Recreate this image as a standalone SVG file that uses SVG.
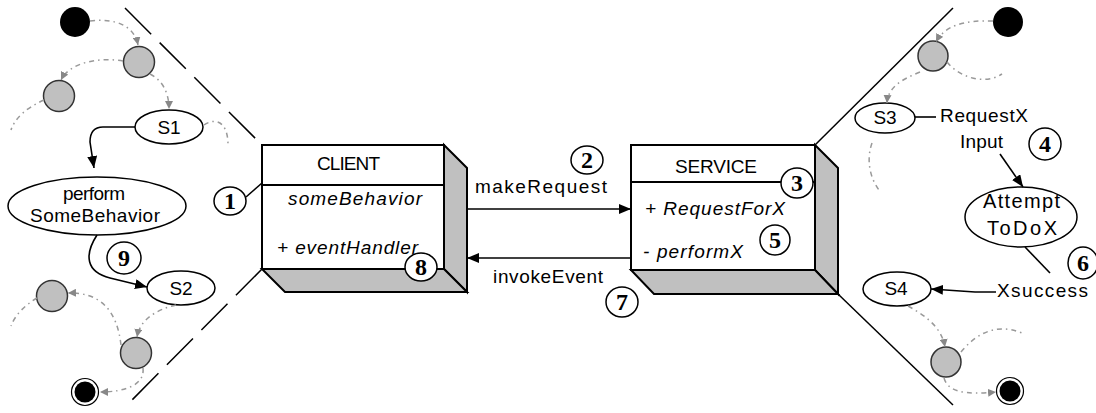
<svg xmlns="http://www.w3.org/2000/svg" width="1096" height="413" viewBox="0 0 1096 413">
  <style>
    text { font-family: "Liberation Sans", Arial, sans-serif; font-size: 19px; fill: #000; }
    .it { font-style: italic; }
    .big { font-size: 20px; }
    .num { font-family: "Liberation Serif", "Times New Roman", serif; font-weight: bold; font-size: 24px; text-anchor: middle; }
    .face { fill: #fff; stroke: #000; stroke-width: 2; }
    .side { fill: #c0c0c0; stroke: #000; stroke-width: 2; stroke-linejoin: miter; }
    .state { fill: #fff; stroke: #000; stroke-width: 1.5; }
    .pseudo { fill: #c0c0c0; stroke: #333; stroke-width: 1.5; }
    .badge { fill: #fff; stroke: #000; stroke-width: 1.5; }
    .flow { fill: none; stroke: #000; stroke-width: 1.6; }
    .trans { fill: none; stroke: #999; stroke-width: 1.5; stroke-dasharray: 5 4 1.5 4; }
    .boundary { fill: none; stroke: #000; stroke-width: 1.5; }
    .dashed { stroke-dasharray: 37 12; }
  </style>
  <defs>
    <marker id="arrow" viewBox="0 0 12 10" refX="12" refY="5" markerWidth="12" markerHeight="10" markerUnits="userSpaceOnUse" orient="auto">
      <path d="M0,0 L12,5 L0,10 Z" fill="#000"/>
    </marker>
    <marker id="arrowGray" viewBox="0 0 8 8" refX="8" refY="4" markerWidth="8" markerHeight="8" markerUnits="userSpaceOnUse" orient="auto">
      <path d="M0,0 L8,4 L0,8 Z" fill="#888"/>
    </marker>
  </defs>

  <!-- boundaries between components -->
  <g id="boundaries">
    <line class="boundary dashed" x1="125" y1="8" x2="262" y2="145"/>
    <line class="boundary dashed" x1="262" y1="269" x2="131" y2="401"/>
    <line class="boundary" x1="953" y1="8" x2="815" y2="145"/>
    <line class="boundary" x1="838" y1="294" x2="953" y2="405"/>
  </g>

  <!-- CLIENT component -->
  <g id="client">
    <polygon class="side" points="444,145 467,168 467,292 444,269"/>
    <polygon class="side" points="262,269 444,269 467,292 285,292"/>
    <rect class="face" x="262" y="145" width="182" height="124"/>
    <line class="face" x1="262" y1="185" x2="444" y2="185"/>
    <text x="317" y="170" textLength="63">CLIENT</text>
    <text class="it" x="288" y="205" textLength="134">someBehavior</text>
    <text class="it" x="277" y="254" textLength="141">+ eventHandler</text>
  </g>

  <!-- SERVICE component -->
  <g id="service">
    <polygon class="side" points="815,145 838,168 838,294 815,270"/>
    <polygon class="side" points="631,270 815,270 838,294 654,294"/>
    <rect class="face" x="631" y="145" width="184" height="125"/>
    <line class="face" x1="631" y1="182" x2="815" y2="182"/>
    <text x="675" y="173" textLength="82">SERVICE</text>
    <text class="it" x="645" y="215" textLength="140">+ RequestForX</text>
    <text class="it" x="643" y="258" textLength="100">- performX</text>
  </g>

  <!-- client-side state machine -->
  <g id="client-start"><circle cx="75" cy="22" r="15" fill="#000"/></g>
  <g id="client-p1"><circle class="pseudo" cx="139" cy="62" r="15.5"/></g>
  <g id="client-p2"><circle class="pseudo" cx="59" cy="96" r="15.5"/></g>
  <g id="s1">
    <ellipse class="state" cx="169" cy="127" rx="34" ry="17"/>
    <text x="169" y="134" text-anchor="middle">S1</text>
  </g>
  <g id="perform-some-behavior">
    <ellipse class="state" cx="97" cy="206" rx="89" ry="29"/>
    <text x="63" y="200" textLength="62">perform</text>
    <text x="30" y="222" textLength="130">SomeBehavior</text>
  </g>
  <g id="s2">
    <ellipse class="state" cx="181" cy="288" rx="34" ry="17"/>
    <text x="181" y="295" text-anchor="middle">S2</text>
  </g>
  <g id="client-p3"><circle class="pseudo" cx="52" cy="296" r="15.5"/></g>
  <g id="client-p4"><circle class="pseudo" cx="136" cy="353" r="15.5"/></g>
  <g id="client-end">
    <circle cx="85" cy="392" r="13.5" fill="#fff" stroke="#000" stroke-width="1.2"/>
    <circle cx="85" cy="392" r="10.5" fill="#000"/>
  </g>

  <!-- service-side state machine -->
  <g id="service-start"><circle cx="1008" cy="22" r="15" fill="#000"/></g>
  <g id="service-p1"><circle class="pseudo" cx="933" cy="56" r="15"/></g>
  <g id="s3">
    <ellipse class="state" cx="885" cy="118" rx="30" ry="15"/>
    <text x="885" y="124" text-anchor="middle">S3</text>
  </g>
  <g id="requestx-input">
    <text x="940" y="122" textLength="88">RequestX</text>
    <text x="960" y="148" textLength="43">Input</text>
  </g>
  <g id="attempt-to-do-x">
    <ellipse class="state" cx="1021" cy="217" rx="56" ry="30"/>
    <text class="big" x="983" y="208" textLength="77">Attempt</text>
    <text class="big" x="987" y="235" textLength="70">ToDoX</text>
  </g>
  <g id="xsuccess">
    <text x="997" y="297" textLength="91">Xsuccess</text>
  </g>
  <g id="s4">
    <ellipse class="state" cx="897" cy="289" rx="34" ry="17"/>
    <text x="896" y="295" text-anchor="middle">S4</text>
  </g>
  <g id="service-p2"><circle class="pseudo" cx="946" cy="362" r="15"/></g>
  <g id="service-end">
    <circle cx="1010" cy="391" r="13.5" fill="#fff" stroke="#000" stroke-width="1.2"/>
    <circle cx="1010" cy="391" r="10.5" fill="#000"/>
  </g>

  <!-- numbered step badges -->
  <g id="step-1"><ellipse class="badge" cx="230" cy="201" rx="16" ry="14"/><text class="num" x="230" y="209">1</text></g>
  <g id="step-2"><ellipse class="badge" cx="587" cy="160" rx="16" ry="14"/><text class="num" x="587" y="168">2</text></g>
  <g id="step-3"><ellipse class="badge" cx="797" cy="183" rx="16" ry="15"/><text class="num" x="797" y="191">3</text></g>
  <g id="step-4"><ellipse class="badge" cx="1045" cy="144" rx="16" ry="16"/><text class="num" x="1045" y="152">4</text></g>
  <g id="step-5"><ellipse class="badge" cx="775" cy="240" rx="15" ry="15"/><text class="num" x="775" y="248">5</text></g>
  <g id="step-6"><ellipse class="badge" cx="1083" cy="263" rx="15" ry="16"/><text class="num" x="1083" y="271">6</text></g>
  <g id="step-7"><ellipse class="badge" cx="622" cy="302" rx="16" ry="15"/><text class="num" x="622" y="310">7</text></g>
  <g id="step-8"><ellipse class="badge" cx="421" cy="267" rx="16" ry="14"/><text class="num" x="421" y="275">8</text></g>
  <g id="step-9"><ellipse class="badge" cx="124" cy="258" rx="17" ry="16"/><text class="num" x="124" y="266">9</text></g>

  <!-- connectors -->
  <g id="connectors">
    <!-- calls between components -->
    <path class="flow" d="M467,209 L631,209" marker-end="url(#arrow)"/>
    <path class="flow" d="M631,258 L467,258" marker-end="url(#arrow)"/>
    <text x="475" y="193" textLength="132">makeRequest</text>
    <text x="493" y="283" textLength="110">invokeEvent</text>
    <line class="flow" x1="246" y1="197" x2="262" y2="183"/>

    <!-- client-side flows -->
    <path class="flow" d="M135,127 L103,127 Q90,127 90,142 L94,168" marker-end="url(#arrow)"/>
    <path class="flow" d="M97,235 C84,255 86,272 110,278 L147,287" marker-end="url(#arrow)"/>

    <!-- client-side transitions -->
    <path class="trans" d="M90,21 C115,18 134,25 138,45" marker-end="url(#arrowGray)"/>
    <path class="trans" d="M123,61 C100,57 70,62 61,80" marker-end="url(#arrowGray)"/>
    <path class="trans" d="M44,100 C26,108 15,118 11,130"/>
    <path class="trans" d="M150,74 C162,80 169,92 169,109" marker-end="url(#arrowGray)"/>
    <path class="trans" d="M204,125 C214,118 228,120 228,145"/>
    <path class="trans" d="M176,305 C155,310 140,320 137,337" marker-end="url(#arrowGray)"/>
    <path class="trans" d="M121,345 C117,310 100,292 68,293" marker-end="url(#arrowGray)"/>
    <path class="trans" d="M37,298 C25,305 15,315 11,326"/>
    <path class="trans" d="M143,368 C145,385 125,392 100,392" marker-end="url(#arrowGray)"/>

    <!-- service-side flows -->
    <line class="flow" x1="915" y1="117" x2="936" y2="117"/>
    <path class="flow" d="M1000,154 L1023,187" marker-end="url(#arrow)"/>
    <line class="flow" x1="1025" y1="247" x2="1050" y2="273"/>
    <path class="flow" d="M996,292 L975,292 L931,289" marker-end="url(#arrow)"/>

    <!-- service-side transitions -->
    <path class="trans" d="M993,21 C965,20 945,25 936,42" marker-end="url(#arrowGray)"/>
    <path class="trans" d="M947,62 C960,78 985,85 1002,74"/>
    <path class="trans" d="M920,72 C900,80 888,88 887,103" marker-end="url(#arrowGray)"/>
    <path class="trans" d="M872,143 C866,160 870,178 879,190"/>
    <path class="trans" d="M908,306 C930,318 942,330 945,347" marker-end="url(#arrowGray)"/>
    <path class="trans" d="M961,352 C975,335 995,322 1022,333"/>
    <path class="trans" d="M944,378 C948,392 965,395 996,392" marker-end="url(#arrowGray)"/>
  </g>
</svg>
